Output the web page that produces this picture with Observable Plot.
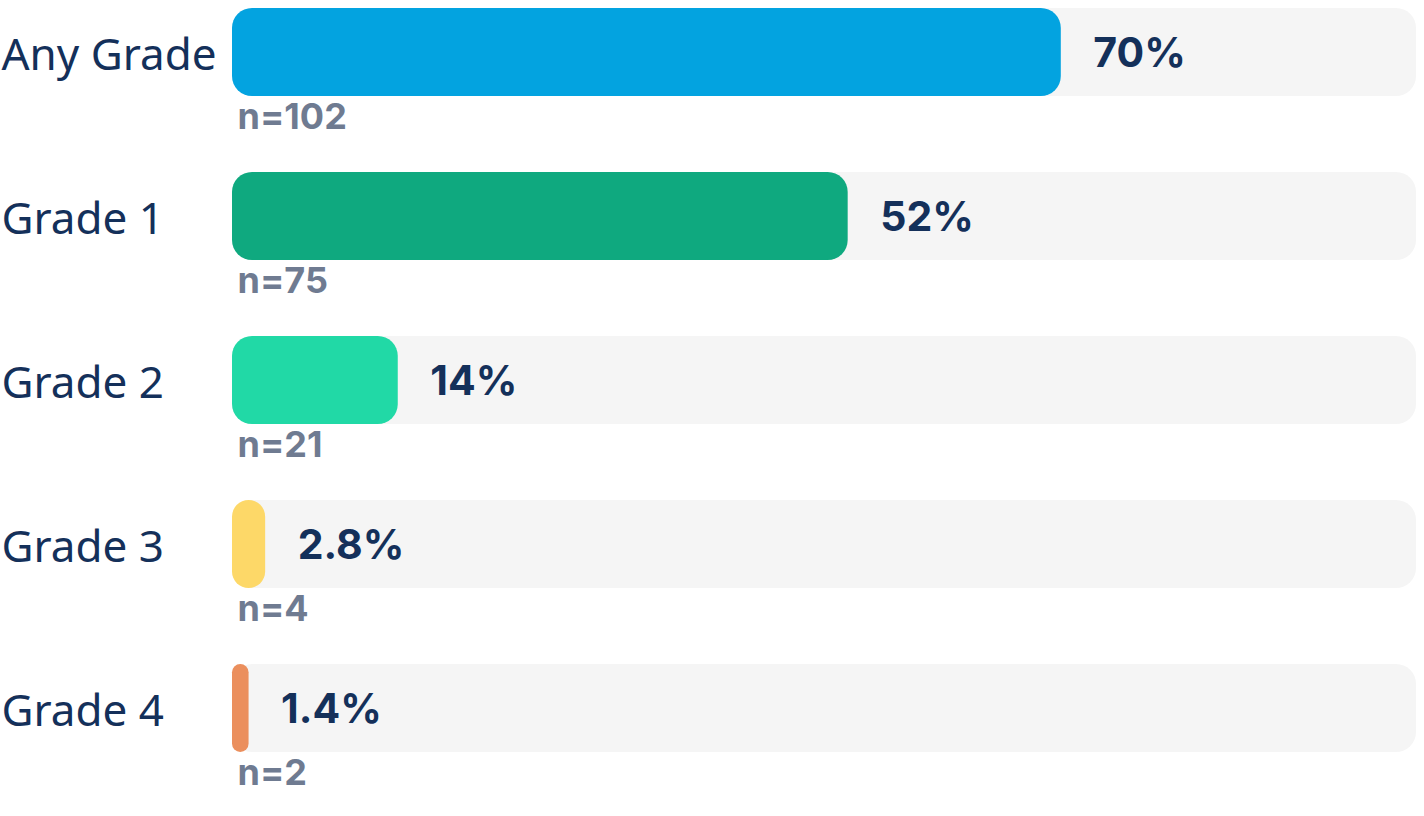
<!DOCTYPE html>
<html>
<head>
<meta charset="utf-8">
<script src="https://cdn.jsdelivr.net/npm/d3@7"></script>
<script src="https://cdn.jsdelivr.net/npm/@observablehq/plot@0.6"></script>
<style>
  html, body { margin: 0; padding: 0; background: #ffffff; }
  #chart svg { display: block; }
</style>
</head>
<body>
<div id="chart"></div>
<script>
// ---- data ----
const grades = ["Any Grade", "Grade 1", "Grade 2", "Grade 3", "Grade 4"];
const percents = [70, 52, 14, 2.8, 1.4];
const counts = [102, 75, 21, 4, 2];
const barColors = ["#03a3e0", "#0fa97f", "#21d9a6", "#fdd868", "#eb8f5d"];
const trackMax = 100;

const data = grades.map((g, i) => ({ grade: g, pct: percents[i], n: counts[i] }));

const navy = "#14305a";
const gray = "#6f7b91";

const chart = Plot.plot({
  width: 1424,
  height: 816,
  marginLeft: 232,
  marginRight: 8,
  marginTop: 8,
  marginBottom: 64,
  x: { domain: [0, trackMax], axis: null },
  y: { domain: grades, axis: null, range: [8, 752], round: false, paddingInner: 76 / 164, paddingOuter: 0 },
  color: { domain: grades, range: barColors },
  style: { background: "#ffffff", overflow: "visible" },
  marks: [
    Plot.barX(data, { y: "grade", x: trackMax, fill: "#f5f5f5", rx: 20 }),
    Plot.barX(data, { y: "grade", x: "pct", fill: "grade", rx: 20 }),
    Plot.text(data, {
      y: "grade", x: "pct", text: d => d.pct + "%",
      dx: 32, dy: 1, textAnchor: "start", fontSize: 41, fontWeight: 700,
      fill: navy, fontFamily: "Inter"
    }),
    Plot.text(data, {
      y: "grade", frameAnchor: "left", text: "grade",
      dx: -231, dy: 3, textAnchor: "start", fontSize: 44,
      fill: navy, fontFamily: "Noto Sans"
    }),
    Plot.text(data, {
      y: "grade", frameAnchor: "left", text: d => "n=" + d.n,
      dx: 5, dy: 65, textAnchor: "start", fontSize: 36, fontWeight: 700,
      fill: gray, fontFamily: "Inter"
    })
  ]
});

// rounded ends: keep corner radius circular on narrow bars
d3.select(chart).selectAll("rect").each(function () {
  const w = +this.getAttribute("width");
  const h = +this.getAttribute("height");
  if (!isFinite(w) || !isFinite(h)) return;
  const r = Math.min(20, w / 2, h / 2);
  this.setAttribute("rx", r);
  this.setAttribute("ry", r);
});

document.getElementById("chart").appendChild(chart);
</script>
</body>
</html>
